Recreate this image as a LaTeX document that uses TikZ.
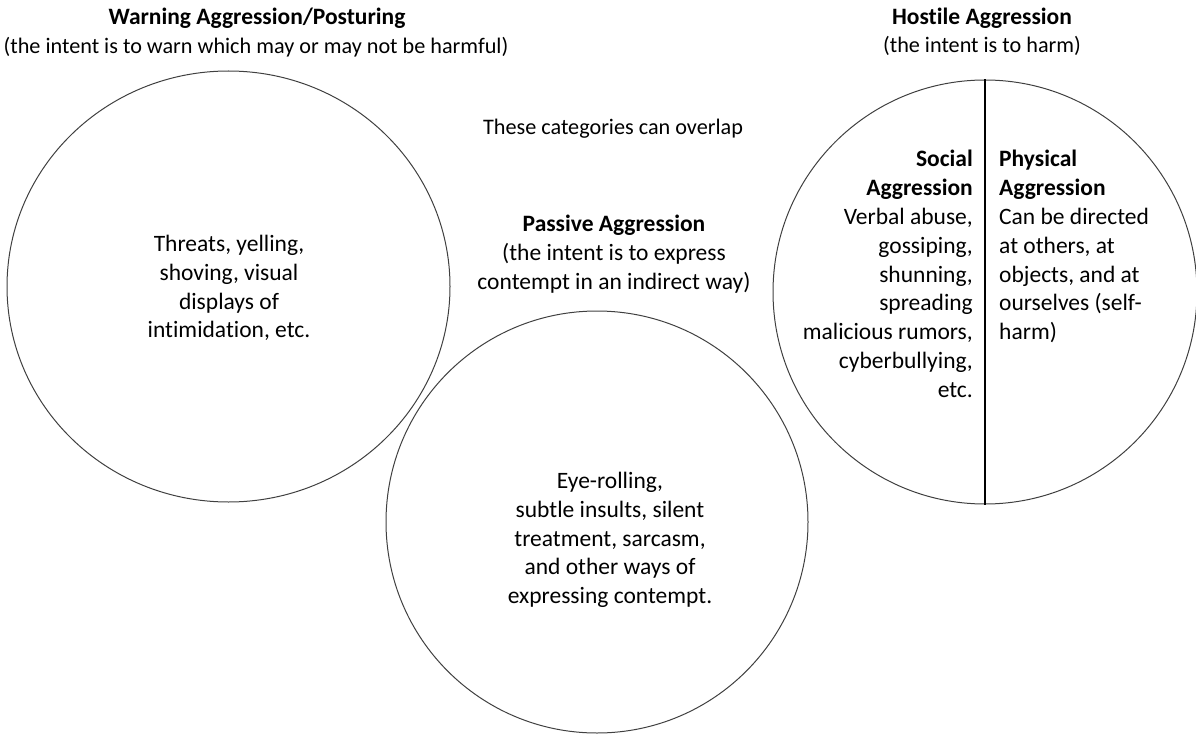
\documentclass[tikz,border=0pt]{standalone}
\usepackage{fontspec}
\setmainfont{Carlito}[Ligatures={NoCommon}]
\usetikzlibrary{shapes.geometric, positioning}

\begin{document}
\begin{tikzpicture}[
    x=1pt, y=-1pt,
    font=\fontsize{23.5}{28.8}\selectfont,
    ring/.style={draw=black!75, line width=1pt, inner sep=0pt},
    blurb/.style={align=center, inner sep=0pt},
    small/.style={font=\fontsize{22.2}{28.8}\selectfont},
    tag/.style={inner sep=0pt},
  ]
  \useasboundingbox (0,0) rectangle (1196,735);

  % --- i tre cerchi ---------------------------------------------------
  \node[ring, ellipse, minimum width=443, minimum height=431] (warn) at (228.5,286.5) {};
  \node[ring, circle, minimum size=422] (pass) at (597,522) {};
  \node[ring, circle, minimum size=424] (host) at (985,292) {};

  % --- la divisione del cerchio ostile --------------------------------
  \draw[black, line width=1.8pt] (host.north) -- (host.south);

  % --- titoli ---------------------------------------------------------
  \node[blurb] (warntitle) at (257,18) {\textbf{Warning Aggression/Posturing}};
  \node[tag, small] (warnsub) at (256,47) {(the intent is to warn which may or may not be harmful)};
  \node[blurb] (hosttitle) at (982,18) {\textbf{Hostile Aggression}};
  \node[tag, small] (hostsub) at (982,46) {(the intent is to harm)};
  \node[tag, small] (overlap) at (613,129) {These categories can overlap};
  \node[blurb] (passhead) at (614,254) {\textbf{Passive Aggression}\\
    (the intent is to express\\ contempt in an indirect way)};

  % --- testi dentro i cerchi ------------------------------------------
  \node[blurb] (warntext) at (229,288) {Threats, yelling,\\ shoving, visual\\
    displays of\\ intimidation, etc.};
  \node[blurb] (passtext) at (610,540) {Eye-rolling,\\ subtle insults, silent\\
    treatment, sarcasm,\\ and other ways of\\ expressing contempt.};
  \node[blurb, align=right, anchor=east] (social) at (973,274) {\textbf{Social}\\
    \textbf{Aggression}\\ Verbal abuse,\\ gossiping,\\ shunning,\\ spreading\\
    malicious rumors,\\ cyberbullying,\\ etc.};
  \node[blurb, align=left, right=26pt of social.north east, anchor=north west] (physical)
    {\textbf{Physical}\\ \textbf{Aggression}\\ Can be directed\\ at others, at\\
    objects, and at\\ ourselves (self-\\ harm)};

\end{tikzpicture}
\end{document}
